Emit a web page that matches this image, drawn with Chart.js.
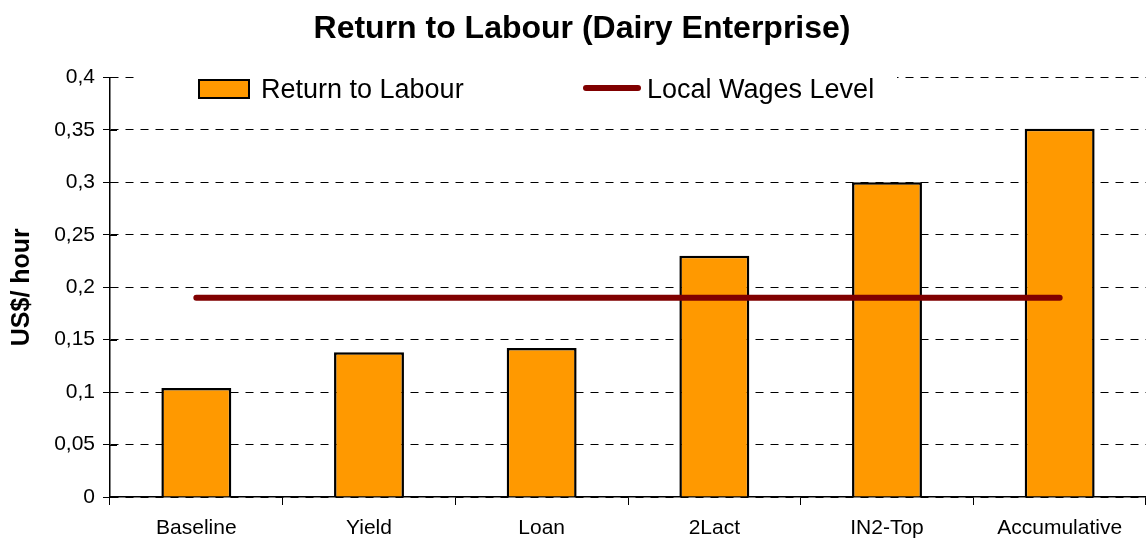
<!DOCTYPE html>
<html>
<head>
<meta charset="utf-8">
<script src="https://cdn.jsdelivr.net/npm/chart.js@4/dist/chart.umd.min.js"></script>
<style>
  html, body { margin: 0; padding: 0; background: #fff; }
  #wrap { width: 1146px; height: 541px; }
</style>
</head>
<body>
<div id="wrap"><canvas id="myChart"></canvas></div>
<script>
const categories = ['Baseline', 'Yield', 'Loan', '2Lact', 'IN2-Top', 'Accumulative'];
const returnToLabour = [0.104, 0.138, 0.142, 0.23, 0.30, 0.351];
const localWages = [0.19, 0.19, 0.19, 0.19, 0.19, 0.19];
const yTickLabels = ['0', '0,05', '0,1', '0,15', '0,2', '0,25', '0,3', '0,35', '0,4'];

const FONT = '"Liberation Sans", Arial, sans-serif';
const ORANGE = '#FF9900';
const MAROON = '#800000';

// legend sits inside the plot, on a white box over the top gridline
const insideLegend = {
    id: 'insideLegend',
    afterDraw(chart) {
        const c = chart.ctx;
        c.save();
        c.fillStyle = '#fff';
        c.fillRect(137, 66, 760, 44);

        c.fillStyle = ORANGE;
        c.strokeStyle = '#000';
        c.lineWidth = 2;
        c.fillRect(199, 80, 50, 18);
        c.strokeRect(199, 80, 50, 18);

        c.strokeStyle = MAROON;
        c.lineWidth = 6;
        c.lineCap = 'round';
        c.beginPath();
        c.moveTo(586, 88);
        c.lineTo(638, 88);
        c.stroke();

        c.fillStyle = '#000';
        c.font = '27px ' + FONT;
        c.textBaseline = 'middle';
        c.fillText(chart.data.datasets[1].label, 261, 91);
        c.fillText(chart.data.datasets[0].label, 647, 91);
        c.restore();
    }
};

// y ticks cross the axis line a little on the plot side too
const axisCross = {
    id: 'axisCross',
    afterDatasetsDraw(chart) {
        const y = chart.scales.y;
        const c = chart.ctx;
        c.save();
        c.strokeStyle = '#000';
        c.lineWidth = 1;
        y.ticks.forEach((t, i) => {
            const py = Math.round(y.getPixelForTick(i)) + 0.5;
            c.beginPath();
            c.moveTo(y.right, py);
            c.lineTo(y.right + 7, py);
            c.stroke();
        });
        c.restore();
    }
};

const ctx = document.getElementById('myChart');

const config = {
    type: 'bar',
    data: {
        labels: categories,
        datasets: [{
            type: 'line',
            label: 'Local Wages Level',
            data: localWages,
            borderColor: MAROON,
            backgroundColor: MAROON,
            borderWidth: 6,
            borderCapStyle: 'round',
            pointRadius: 0,
            order: 0
        }, {
            label: 'Return to Labour',
            data: returnToLabour,
            backgroundColor: ORANGE,
            borderColor: '#000',
            borderWidth: 2.5,
            categoryPercentage: 1,
            barPercentage: 0.405,
            order: 1
        }]
    },
    options: {
        responsive: true,
        maintainAspectRatio: false,
        animation: false,
        devicePixelRatio: 1,
        layout: { padding: { left: 18, right: 0, top: 0, bottom: 0 } },
        plugins: {
            legend: { display: false },
            tooltip: { enabled: false },
            title: {
                display: true,
                text: 'Return to Labour (Dairy Enterprise)',
                color: '#000',
                font: { family: FONT, size: 32, weight: 'bold' },
                padding: { top: 10, bottom: 29 }
            }
        },
        scales: {
            x: {
                offset: true,
                grid: {
                    display: true,
                    offset: true,
                    drawOnChartArea: false,
                    drawTicks: true,
                    tickLength: 8,
                    tickColor: '#000',
                    tickWidth: 1
                },
                border: { display: true, color: '#000', width: 1.5 },
                ticks: {
                    color: '#000',
                    font: { family: FONT, size: 21 },
                    padding: 11,
                    maxRotation: 0
                },
                afterFit(scale) { scale.height = 44; }
            },
            y: {
                min: 0,
                max: 0.4,
                ticks: {
                    stepSize: 0.05,
                    color: '#000',
                    font: { family: FONT, size: 21 },
                    padding: 8,
                    callback: (v, i) => yTickLabels[i]
                },
                grid: {
                    color: '#000',
                    lineWidth: 1,
                    tickLength: 7,
                    tickColor: '#000',
                    tickBorderDash: []
                },
                border: { display: true, color: '#000', width: 1.5, dash: [8, 7] },
                title: {
                    display: true,
                    text: 'US$/ hour',
                    color: '#000',
                    font: { family: FONT, size: 25, weight: 'bold' },
                    padding: { top: -11, bottom: 0 }
                },
                afterFit(scale) { scale.width = 92; }
            }
        }
    },
    plugins: [insideLegend, axisCross]
};

let chart = new Chart(ctx, config);
</script>
</body>
</html>
